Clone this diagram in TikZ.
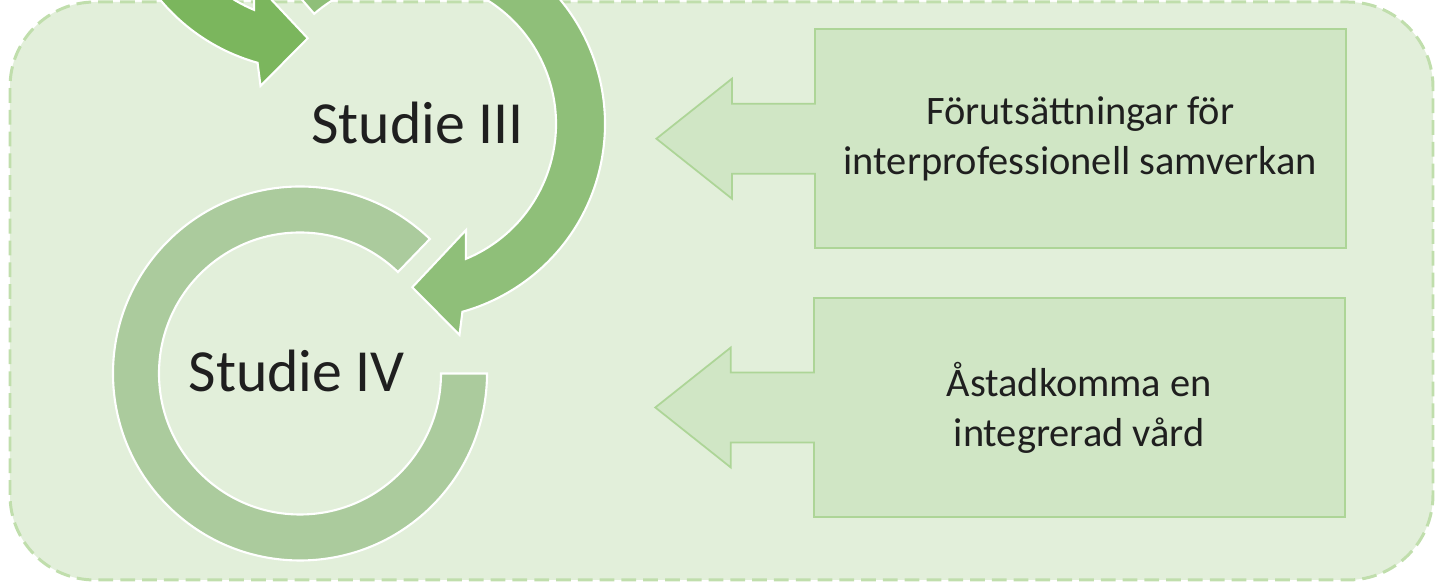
\documentclass[tikz,border=0pt]{standalone}
\usepackage{fontspec}
\setmainfont{Carlito}
\usepackage{tikz}
\usetikzlibrary{arrows,shapes}
\definecolor{bakgrund}{HTML}{E2EFDA}
\definecolor{kant}{HTML}{C0DEAC}
\definecolor{ringtva}{HTML}{7BB65D}
\definecolor{ringtre}{HTML}{8FBF79}
\definecolor{ringfyra}{HTML}{ABCB9D}
\definecolor{rutfyll}{HTML}{D0E6C5}
\definecolor{rutkant}{HTML}{ADD597}
\definecolor{textfarg}{HTML}{1F1F1F}
\tikzstyle{ram}=[draw=kant,fill=bakgrund,line width=0.85pt,dash pattern=on 4.2pt off 2pt,rounded corners=8.5mm]
\tikzstyle{ring}=[draw=white,line width=0.6pt,line join=miter]
\tikzstyle{studie}=[inner sep=0pt,anchor=base,text=textfarg,font=\fontsize{17}{20}\selectfont]
\tikzstyle{ruta}=[rectangle,draw=rutkant,fill=rutfyll,line width=0.5pt,minimum width=53.1mm,minimum height=21.9mm,align=center,text=textfarg,font=\fontsize{11.5}{14.2}\selectfont]
\tikzstyle{pil}=[draw=rutkant,fill=rutfyll,line width=0.5pt,line join=miter]

\begin{document}
\begin{tikzpicture}[x=0.1mm,y=0.1mm]
    \useasboundingbox (0,0) rectangle (1435,583);
    \clip (0,0) rectangle (1435,583);
    % Background frame
    \path[ram] (10,3) rectangle (1433,581);
    % Circular arrows, one centre per study
    \begin{scope}[shift={(310,708)}]
        \path[ring,fill=ringtva] (-210:195) arc[start angle=-210,end angle=-105.6,radius=195]
            -- (-103.2:216.7) -- (-90.8:163.3) -- (-117.8:120) -- (-112.5:146)
            arc[start angle=-112.5,end angle=-210,radius=146] -- cycle;
    \end{scope}
    \begin{scope}[shift={(410,459)}]
        \path[ring,fill=ringtre] (131:195) arc[start angle=131,end angle=-74.4,radius=195]
            -- (-76.8:216.7) -- (-89.2:163.3) -- (-62.2:120) -- (-67.5:146)
            arc[start angle=-67.5,end angle=131,radius=146] -- cycle;
    \end{scope}
    \begin{scope}[shift={(300,209.5)}]
        \path[ring,fill=ringfyra] (46:187) arc[start angle=46,end angle=360,radius=187]
            -- (360:141) arc[start angle=360,end angle=46,radius=141] -- cycle;
    \end{scope}
    % Study labels
    \foreach \pos/\name/\txt in {{(417.5,439.7)/tre/Studie III}, {(296.7,191.3)/fyra/Studie IV}}
        \node[studie] (\name) at \pos {\txt};
    % Boxes with their arrows
    \node[ruta] (forut) at (1080.3,444.3) {Förutsättningar för\\interprofessionell samverkan};
    \node[ruta] (astad) at (1079.2,175.5) {Åstadkomma en\\integrerad vård};
    \foreach \b in {forut,astad}
        \draw[pil] (\b.west) ++(2,35) -- ++(-84,0) -- ++(0,25) -- ++(-75.5,-60)
            -- ++(75.5,-60) -- ++(0,25) -- ++(84,0);
\end{tikzpicture}
\end{document}
